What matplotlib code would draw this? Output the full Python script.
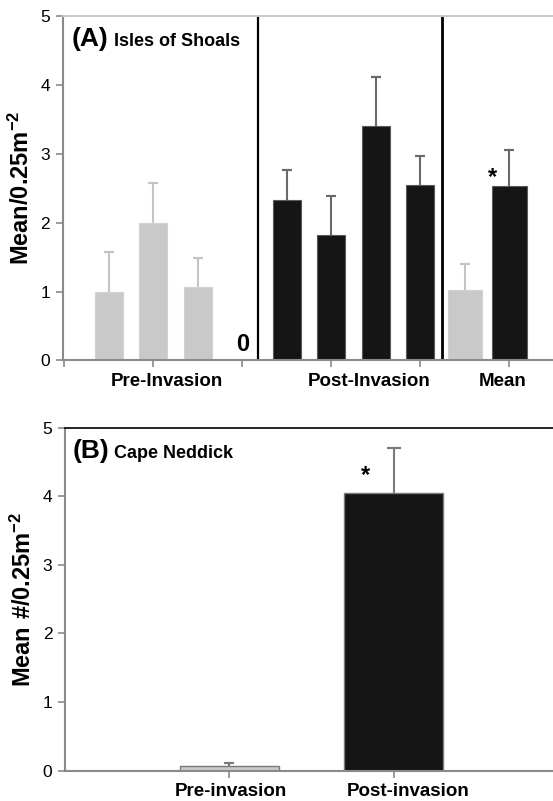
"""Two-panel bar chart: density before/after invasion at Isles of Shoals and Cape Neddick."""
import numpy as np
import matplotlib; matplotlib.use("Agg")
import matplotlib.pyplot as plt

plt.rcParams["font.family"] = ["Liberation Sans", "DejaVu Sans"]
plt.rcParams["mathtext.fontset"] = "custom"
plt.rcParams["mathtext.rm"] = "Liberation Sans"
plt.rcParams["mathtext.bf"] = "Liberation Sans:bold"

# panel A (Isles of Shoals): per-survey means, upper SE
pre_vals = [1.00, 2.00, 1.06]
pre_err = [0.57, 0.58, 0.42]
post_vals = [2.33, 1.82, 3.41, 2.54]
post_err = [0.43, 0.57, 0.71, 0.43]
mean_vals = [1.02, 2.53]
mean_err = [0.38, 0.53]
groups_a = ["Pre-Invasion", "Post-Invasion", "Mean"]

# panel B (Cape Neddick)
cats_b = ["Pre-invasion", "Post-invasion"]
vals_b = [0.06, 4.05]
err_b = [0.05, 0.65]

GRAY, BLACK = "#c9c9c9", "#151515"
GRAY_EDGE, BLACK_EDGE = "#d2d2d2", "#5a5a5a"
GRAY_ERR, BLACK_ERR = "#c4c4c4", "#6a6a6a"
SPINE = "#8a8a8a"

fig = plt.figure(figsize=(5.53, 8.01), dpi=100)
axA = fig.add_axes([0.1134, 0.55, 0.8866, 0.43])
axB = fig.add_axes([0.1175, 0.038, 0.8825, 0.428])

def style(ax, top_color, top_lw):
    ax.set_ylim(0, 5)
    ax.set_yticks(range(6))
    ax.spines["right"].set_visible(False)
    ax.spines["top"].set_color(top_color); ax.spines["top"].set_linewidth(top_lw)
    for s in ("left", "bottom"):
        ax.spines[s].set_color(SPINE); ax.spines[s].set_linewidth(1.5)
    ax.tick_params(axis="both", direction="out", length=5, width=1.2, color=SPINE,
                   labelsize=12.5, pad=4)
    ax.tick_params(axis="x", labelbottom=False)

def upper_err(ax, x, v, e, color, cap):
    # whisker only above the bar, like the original
    x, v, e = np.atleast_1d(x), np.atleast_1d(v), np.atleast_1d(e)
    ax.errorbar(x, v + e / 2, yerr=e / 2, fmt="none", ecolor=color,
                elinewidth=1.5, capsize=0)
    ax.errorbar(x, v + e, yerr=0, fmt="none", ecolor=color, capsize=cap,
                capthick=1.5, elinewidth=0)

# ---- panel A
style(axA, "#c8c8c8", 1.5)
pre_x = np.arange(1, 1 + len(pre_vals))
zero_x = pre_x[-1] + 1
post_x = np.arange(zero_x + 1, zero_x + 1 + len(post_vals))
mean_x = np.arange(post_x[-1] + 1, post_x[-1] + 1 + len(mean_vals))

axA.bar(pre_x, pre_vals, 0.63, color=GRAY, edgecolor=GRAY_EDGE, lw=0.8)
upper_err(axA, pre_x, np.array(pre_vals), np.array(pre_err), GRAY_ERR, 3.5)
axA.bar(post_x, post_vals, 0.63, color=BLACK, edgecolor=BLACK_EDGE, lw=0.8)
upper_err(axA, post_x, np.array(post_vals), np.array(post_err), BLACK_ERR, 3.5)
for x, v, e, c, ec, erc in zip(mean_x, mean_vals, mean_err, [GRAY, BLACK],
                               [GRAY_EDGE, BLACK_EDGE], [GRAY_ERR, BLACK_ERR]):
    axA.bar(x, v, 0.78, color=c, edgecolor=ec, lw=0.8)
    upper_err(axA, x, v, e, erc, 3.5)

axA.text(zero_x, 0.06, "0", ha="center", va="bottom", fontsize=17, fontweight="bold")
axA.text(mean_x[1] - 0.37, mean_vals[1] + 0.12, "*", ha="center", va="center",
         fontsize=17, fontweight="bold")
axA.axvline(zero_x + 0.34, ymin=0, ymax=1, color="black", lw=1.6)
axA.axvline(post_x[-1] + 0.48, ymin=0, ymax=1, color="black", lw=2.0)

axA.set_xlim(-0.04, 10.98)
axA.set_xticks(np.arange(0, 11, 2))
for gx, name in zip([2.3, 6.85, 9.85], groups_a):
    axA.text(gx, -0.31, name, ha="center", va="center", fontsize=13.5, fontweight="bold")
axA.set_ylabel("$\\mathbf{Mean/0.25m^{-2}}$", fontsize=17, labelpad=5)
axA.text(0.019, 0.913, "(A)", transform=axA.transAxes, fontsize=19, fontweight="bold",
         va="baseline")
axA.text(0.105, 0.913, "Isles of Shoals", transform=axA.transAxes, fontsize=13,
         fontweight="bold", va="baseline")

# ---- panel B
style(axB, "black", 1.2)
xb = np.arange(1, 1 + len(cats_b))
axB.bar(xb[0], vals_b[0], 0.6, color=GRAY, edgecolor="#7a7a7a", lw=1.0)
upper_err(axB, xb[0], vals_b[0], err_b[0], "#7a7a7a", 3.5)
axB.bar(xb[1], vals_b[1], 0.6, color=BLACK, edgecolor="#7a7a7a", lw=1.0)
upper_err(axB, xb[1], vals_b[1], err_b[1], "#7a7a7a", 5)
axB.text(xb[1] - 0.17, 4.31, "*", ha="center", va="center", fontsize=17, fontweight="bold")
axB.set_xlim(0, 2.97)
axB.set_xticks(xb)
for x, name in zip([1.01, 2.09], cats_b):
    axB.text(x, -0.3, name, ha="center", va="center", fontsize=13.5, fontweight="bold")
axB.set_ylabel("$\\mathbf{Mean\\ \\#/0.25m^{-2}}$", fontsize=17, labelpad=5)
axB.text(0.016, 0.911, "(B)", transform=axB.transAxes, fontsize=19, fontweight="bold",
         va="baseline")
axB.text(0.101, 0.911, "Cape Neddick", transform=axB.transAxes, fontsize=13,
         fontweight="bold", va="baseline")

fig.savefig("out.png", dpi=100)
print("-> out.png")
